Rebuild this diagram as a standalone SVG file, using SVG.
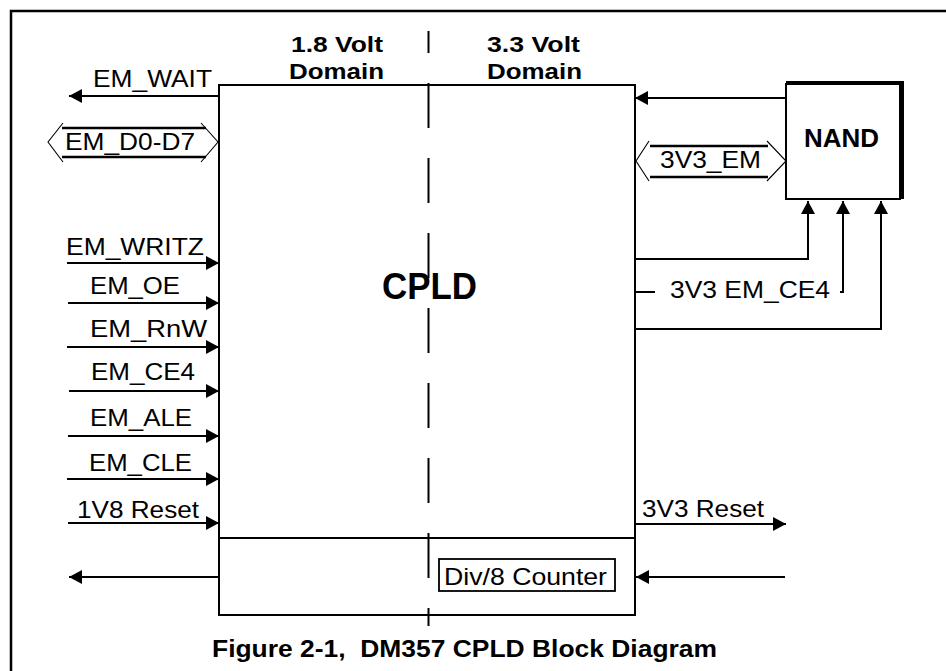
<svg xmlns="http://www.w3.org/2000/svg" width="946" height="671" viewBox="0 0 946 671">
<defs>
<style>
.ln{fill:none;stroke:#000;stroke-width:2}
.bus{fill:none;stroke:#000;stroke-width:2.5}
.chev{fill:none;stroke:#000;stroke-width:1.1}
.t{font-family:"Liberation Sans",Arial,sans-serif;font-size:24px;fill:#000}
.b{font-family:"Liberation Sans",Arial,sans-serif;font-weight:bold;fill:#000}
</style>
<marker id="ah" viewBox="0 0 13 14" refX="13" refY="7" markerWidth="13" markerHeight="14" markerUnits="userSpaceOnUse" orient="auto">
<path d="M0,0 L13,7 L0,14 z" fill="#000"/>
</marker>
</defs>
<rect width="946" height="671" fill="#fff"/>
<g id="frame">
<path d="M11,680 V11 H950" fill="none" stroke="#000" stroke-width="2.5"/>
</g>
<g id="cpld">
<rect x="219" y="85" width="416" height="530" class="ln"/>
<line x1="219" y1="538" x2="635" y2="538" class="ln"/>
<line x1="428.5" y1="31" x2="428.5" y2="626" stroke="#000" stroke-width="2" stroke-dasharray="45 30" stroke-dashoffset="23"/>
<text class="b" font-size="22" x="291" y="52" textLength="92" lengthAdjust="spacingAndGlyphs">1.8 Volt</text>
<text class="b" font-size="22" x="289" y="79" textLength="95" lengthAdjust="spacingAndGlyphs">Domain</text>
<text class="b" font-size="22" x="487" y="52" textLength="93" lengthAdjust="spacingAndGlyphs">3.3 Volt</text>
<text class="b" font-size="22" x="487" y="79" textLength="95" lengthAdjust="spacingAndGlyphs">Domain</text>
<text class="b" font-size="37" x="382" y="299" textLength="95" lengthAdjust="spacingAndGlyphs">CPLD</text>
</g>
<g id="counter">
<rect x="439" y="559" width="176" height="32" fill="#fff" stroke="#000" stroke-width="1.8"/>
<text class="t" x="444" y="585" textLength="163" lengthAdjust="spacingAndGlyphs">Div/8 Counter</text>
</g>
<g id="nand">
<rect x="786" y="84" width="114" height="115" fill="#fff" stroke="#000" stroke-width="2"/>
<path d="M786,83 H902 V199" fill="none" stroke="#000" stroke-width="4"/>
<text class="b" font-size="25" x="804" y="147" textLength="75" lengthAdjust="spacingAndGlyphs">NAND</text>
</g>
<g id="connectors">
<path class="ln" d="M219,96 H69" marker-end="url(#ah)"/>
<path class="bus" d="M62,128 H206 M62,157 H206"/>
<path class="chev" d="M63,123 L48,142 L63,162 M201,123 L218,142 L201,162"/>
<path class="ln" d="M67,263 H219" marker-end="url(#ah)"/>
<path class="ln" d="M68,303 H219" marker-end="url(#ah)"/>
<path class="ln" d="M67,347 H219" marker-end="url(#ah)"/>
<path class="ln" d="M69,391 H219" marker-end="url(#ah)"/>
<path class="ln" d="M68,436 H219" marker-end="url(#ah)"/>
<path class="ln" d="M67,479 H219" marker-end="url(#ah)"/>
<path class="ln" d="M68,523 H219" marker-end="url(#ah)"/>
<path class="ln" d="M786,98 H635" marker-end="url(#ah)"/>
<path class="bus" d="M650,146 H768 M650,177 H768"/>
<path class="chev" d="M649,141 L636,161 L649,181 M767,141 L786,161 L767,181"/>
<path class="ln" d="M635,259 H808 V201" marker-end="url(#ah)"/>
<path class="ln" d="M635,292 H655"/>
<path class="ln" d="M840,292 H843 V201" marker-end="url(#ah)"/>
<path class="ln" d="M635,329 H881 V201" marker-end="url(#ah)"/>
<path class="ln" d="M635,524 H786" marker-end="url(#ah)"/>
<path class="ln" d="M219,577 H69" marker-end="url(#ah)"/>
<path class="ln" d="M785,577 H636" marker-end="url(#ah)"/>
</g>
<g id="labels">
<text class="t" x="93" y="87" textLength="119" lengthAdjust="spacingAndGlyphs">EM_WAIT</text>
<text class="t" x="65" y="150" textLength="130" lengthAdjust="spacingAndGlyphs">EM_D0-D7</text>
<text class="t" x="66" y="255" textLength="138" lengthAdjust="spacingAndGlyphs">EM_WRITZ</text>
<text class="t" x="90" y="294" textLength="90" lengthAdjust="spacingAndGlyphs">EM_OE</text>
<text class="t" x="90" y="337" textLength="117" lengthAdjust="spacingAndGlyphs">EM_RnW</text>
<text class="t" x="91" y="380" textLength="104" lengthAdjust="spacingAndGlyphs">EM_CE4</text>
<text class="t" x="90" y="426" textLength="102" lengthAdjust="spacingAndGlyphs">EM_ALE</text>
<text class="t" x="89" y="471" textLength="103" lengthAdjust="spacingAndGlyphs">EM_CLE</text>
<text class="t" x="77" y="518" textLength="122" lengthAdjust="spacingAndGlyphs">1V8 Reset</text>
<text class="t" x="660" y="168" textLength="101" lengthAdjust="spacingAndGlyphs">3V3_EM</text>
<text class="t" x="670" y="298" textLength="160" lengthAdjust="spacingAndGlyphs">3V3 EM_CE4</text>
<text class="t" x="642" y="517" textLength="122" lengthAdjust="spacingAndGlyphs">3V3 Reset</text>
</g>
<g id="caption">
<text class="b" font-size="23" x="212" y="657" textLength="505" lengthAdjust="spacingAndGlyphs" xml:space="preserve">Figure 2-1,  DM357 CPLD Block Diagram</text>
</g>
</svg>
